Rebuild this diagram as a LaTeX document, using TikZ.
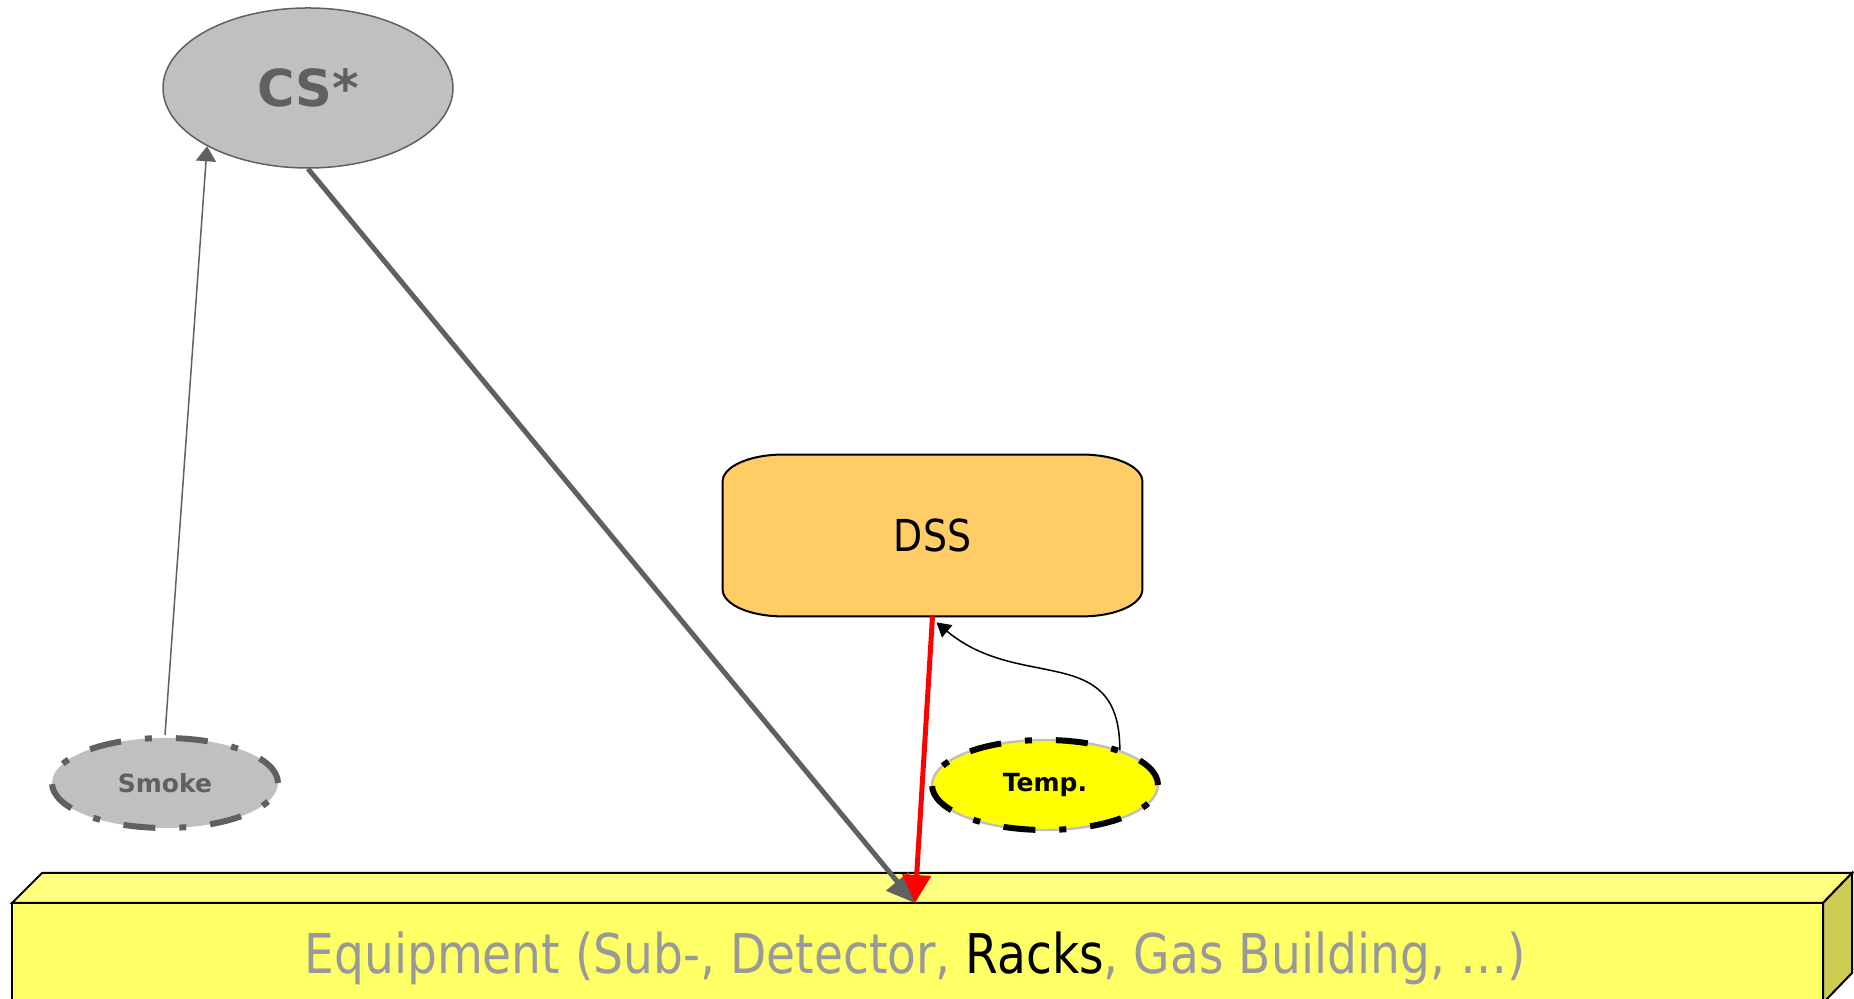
\documentclass[tikz,border=0pt]{standalone}
\usepackage{fontspec}
\setmainfont{DejaVu Sans}[FakeStretch=0.86]
\newfontfamily\boldlabel{DejaVu Sans}
\usetikzlibrary{shapes.geometric,arrows.meta,backgrounds}
\definecolor{ellgray}{HTML}{C0C0C0}
\definecolor{linegray}{HTML}{606060}
\definecolor{txtgray}{HTML}{999999}
\definecolor{dssfill}{HTML}{FFCC66}
\definecolor{frontyellow}{HTML}{FFFF66}
\definecolor{topyellow}{HTML}{FFFF80}
\definecolor{sideyellow}{HTML}{CCCC55}
\definecolor{tempyellow}{HTML}{FFFF00}
\tikzset{
  bigell/.style={ellipse, fill=ellgray, draw=linegray, line width=0.75pt,
    inner sep=0pt, minimum width=145pt, minimum height=80pt,
    text=linegray, font=\boldlabel\bfseries\fontsize{25.5}{25.5}\selectfont},
  sensor/.style={ellipse, inner sep=0pt, minimum width=113pt, minimum height=45pt,
    font=\boldlabel\bfseries\fontsize{12.5}{12.5}\selectfont},
  dashring/.style={line width=3pt, dash pattern=on 16pt off 12pt on 3.5pt off 12pt},
  boxline/.style={draw=black, line width=1pt, line join=miter},
  thinarrow/.style={line width=0.75pt, -{Triangle[length=7.5pt,width=10pt]}},
  thickarrow/.style={line width=2.5pt, -{Triangle[length=14pt,width=14pt]}},
}
\begin{document}
\begin{tikzpicture}[x=0.5pt,y=0.5pt]
\useasboundingbox (0,0) rectangle (1854,999);

% equipment block (front, top and right faces)
\fill[frontyellow] (12,-40) rectangle (1823,96);
\draw[boxline] (12,-40) -- (12,96) -- (1823,96) -- (1823,-40);
\filldraw[boxline, fill=topyellow] (12,96) -- (42,126) -- (1852,126) -- (1823,96) -- cycle;
\filldraw[boxline, fill=sideyellow] (1823,96) -- (1852,126) -- (1852,26) -- (1823,-4) -- cycle;
\node[text=txtgray, font=\fontsize{27.4}{27.4}\selectfont, inner sep=0pt] (equip) at (915,41)
  {Equipment (Sub-, Detector, \textcolor{black}{Racks}, Gas Building, …)};
\coordinate (hit) at (915,96);

% control system
\node[bigell] (cs) at (308,911) {CS*};

% DSS box with elliptical corners
\node[inner sep=0pt, minimum width=209.5pt, minimum height=80.5pt,
      font=\fontsize{22}{22}\selectfont] (dss) at (932.5,463.5) {DSS};
\begin{scope}[on background layer]
\filldraw[fill=dssfill, draw=black, line width=1pt]
  ([xshift=30pt]dss.north west) -- ([xshift=-30pt]dss.north east)
  arc[start angle=90, end angle=0, x radius=30pt, y radius=13.5pt]
  -- ([yshift=13.5pt]dss.south east)
  arc[start angle=0, end angle=-90, x radius=30pt, y radius=13.5pt]
  -- ([xshift=30pt]dss.south west)
  arc[start angle=270, end angle=180, x radius=30pt, y radius=13.5pt]
  -- ([yshift=-13.5pt]dss.north west)
  arc[start angle=180, end angle=90, x radius=30pt, y radius=13.5pt]
  -- cycle;
\end{scope}

% sensors
\node[sensor, fill=ellgray, text=linegray, draw=linegray, dashring] (smoke) at (165,216) {Smoke};
\node[sensor, fill=tempyellow, text=black, draw=black!25, line width=1.2pt,
      postaction={draw=black, dashring}] (temp) at (1045,214) {Temp.};

% connectors
\draw[thinarrow, draw=linegray, fill=linegray] (smoke.north) -- (cs.210);
\draw[thickarrow, draw=linegray, fill=linegray] (cs.south) -- (hit);
\draw[thickarrow, draw=red, fill=red] (dss.south) -- (hit);
\draw[line width=0.75pt, -{Triangle[length=7pt,width=8pt]}]
  (temp.25) to[out=90, in=-40, looseness=1.25] ([xshift=2pt,yshift=-3]dss.south);
\end{tikzpicture}
\end{document}
